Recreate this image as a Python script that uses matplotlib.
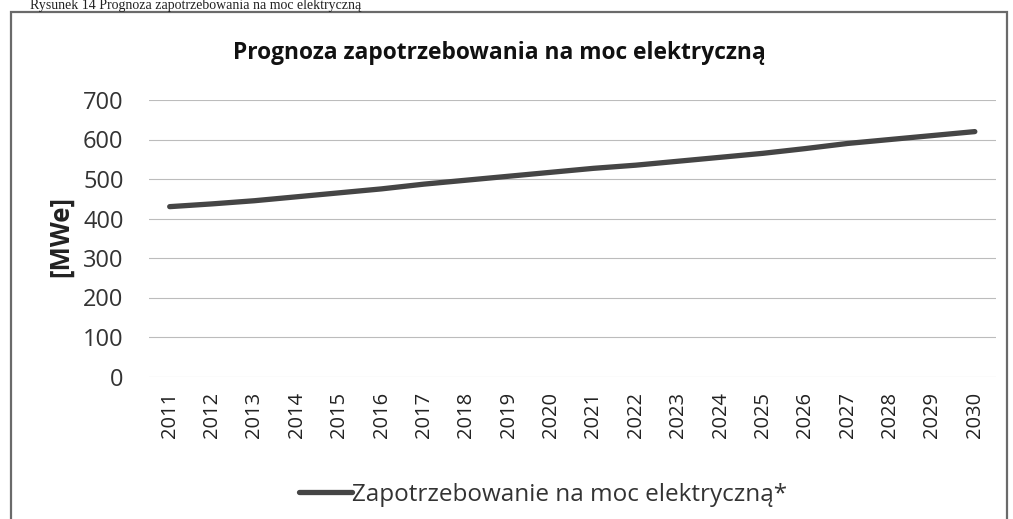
import matplotlib
matplotlib.use("Agg")
import matplotlib.pyplot as plt
from matplotlib.patches import Rectangle

years = [str(y) for y in range(2011, 2031)]
demand = [430, 437, 445, 455, 465, 475, 487, 497, 507, 517,
          527, 535, 545, 555, 565, 577, 590, 600, 610, 620]
y_ticks = [0, 100, 200, 300, 400, 500, 600, 700]

title = "Prognoza zapotrzebowania na moc elektryczną"
header = "Rysunek 14 Prognoza zapotrzebowania na moc elektryczną"
ylabel = "[MWe]"
series_label = "Zapotrzebowanie na moc elektryczną*"

W, H = 1013, 519
fig = plt.figure(figsize=(W / 100, H / 100), dpi=100)
fig.patch.set_facecolor("white")

def fx(px):
    return px / W

def fy(py):
    return 1 - py / H

ax = fig.add_axes([fx(148.5), fy(376.5), fx(996) - fx(148.5), fy(100) - fy(376.5)])
x = list(range(len(years)))
line, = ax.plot(x, demand, color="#454545", lw=3.8, solid_capstyle="round",
                label=series_label, zorder=3)
ax.set_xlim(-0.5, len(years) - 0.5)
ax.set_ylim(0, 700)
ax.set_yticks(y_ticks)
ax.set_yticklabels([str(v) for v in y_ticks], fontsize=17, family="Open Sans", color="#333333")
ax.set_xticks(x)
ax.set_xticklabels(years, rotation=90, fontsize=14.5, family="Open Sans", color="#222222")
ax.tick_params(axis="y", length=0, pad=18)
ax.tick_params(axis="x", length=0, pad=11)
for s in ax.spines.values():
    s.set_visible(False)
ax.grid(axis="y", color="#bcbcbc", lw=0.8)
ax.set_axisbelow(True)

fig.text(fx(61), fy(237), ylabel, rotation=90, ha="center", va="center",
         fontsize=18.5, fontweight="bold", family="Open Sans", color="#222222")
fig.text(fx(499), fy(53), title, ha="center", va="center",
         fontsize=16.4, fontweight="bold", family="Open Sans", color="#111111")

leg = fig.legend(handles=[line], labels=[series_label], loc="center",
                 bbox_to_anchor=(fx(543), fy(495)), frameon=False,
                 prop={"family": "Open Sans", "size": 17.5}, handlelength=2.2,
                 handletextpad=0.0)
for t in leg.get_texts():
    t.set_color("#333333")

fig.text(fx(30), fy(9), header, ha="left", va="baseline",
         fontsize=10, family="Liberation Serif", color="#222222")

fig.patches.append(Rectangle((fx(11), fy(540)), fx(1007) - fx(11), fy(12) - fy(540),
                             transform=fig.transFigure, fill=False,
                             edgecolor="#6a6a6a", lw=1.6))

fig.savefig("out.png", dpi=100)
